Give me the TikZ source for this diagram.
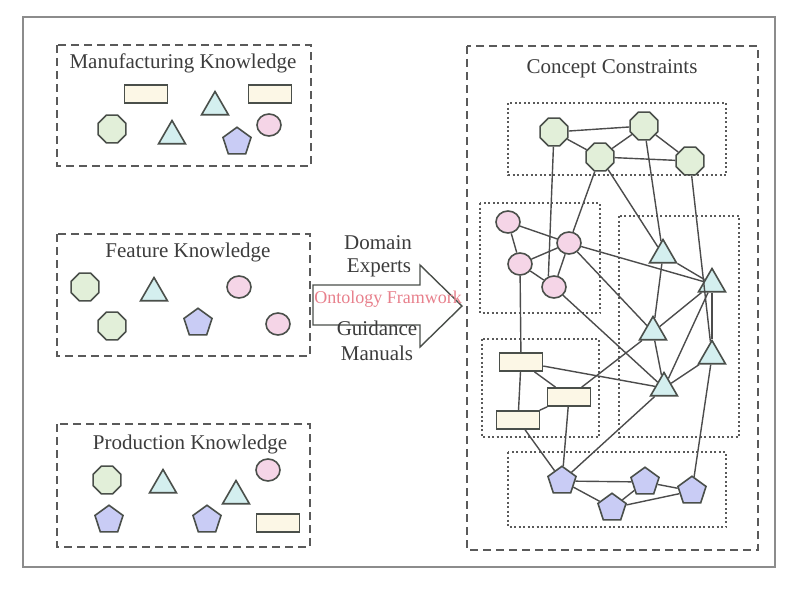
\documentclass[tikz,border=0pt]{standalone}
\usepackage{fontspec}
\setmainfont{Liberation Serif}
\usetikzlibrary{shapes.geometric}
\definecolor{octfill}{HTML}{E2EFD9}
\definecolor{trifill}{HTML}{D4EFEF}
\definecolor{circfill}{HTML}{F5D5E7}
\definecolor{pentfill}{HTML}{C9CCF5}
\definecolor{rctfill}{HTML}{FCF7E6}
\definecolor{shpline}{HTML}{4A4F4A}
\definecolor{boxline}{HTML}{5A5A5A}
\definecolor{lnkline}{HTML}{4C4C4C}
\definecolor{txt}{HTML}{3C3C3C}
\definecolor{pinktxt}{HTML}{E8808C}
\begin{document}
\begin{tikzpicture}[x=1pt,y=-1pt,
  shp/.style={draw=shpline,line width=1.6pt,inner sep=0pt},
  oct/.style={shp,regular polygon,regular polygon sides=8,minimum size=30pt,fill=octfill},
  tri/.style={shp,regular polygon,regular polygon sides=3,minimum size=31pt,fill=trifill},
  pent/.style={shp,regular polygon,regular polygon sides=5,minimum size=29.5pt,fill=pentfill},
  circ/.style={shp,ellipse,minimum width=24pt,minimum height=22pt,fill=circfill},
  rct/.style={shp,rectangle,minimum width=43pt,minimum height=18pt,fill=rctfill},
  grp/.style={draw=boxline,line width=1.5pt,dash pattern=on 8pt off 5pt},
  sub/.style={draw=boxline,line width=1.4pt,dash pattern=on 2pt off 2.5pt},
  lnk/.style={draw=lnkline,line width=1.4pt},
  ttl/.style={font=\fontsize{21}{24}\selectfont,text=txt,inner sep=0pt}]
\useasboundingbox (0,0) rectangle (800,594);
\draw [draw=gray!90,line width=1.4pt] (23,17) rectangle (775,567);
% left groups
\draw [grp] (57,45) rectangle (311,166);
\node [ttl] (tman) at (183,63) {Manufacturing Knowledge};
\node [rct] (m1) at (146,94) {};
\node [rct] (m2) at (270,94) {};
\node [tri] (m3) at (215,107) {};
\node [oct] (m4) at (112,129) {};
\node [tri] (m5) at (172,136) {};
\node [pent] (m6) at (237,142) {};
\node [circ] (m7) at (269,125) {};
\draw [grp] (57,234) rectangle (310,356);
\node [ttl] (tfea) at (188,252) {Feature Knowledge};
\node [oct] (f1) at (85,287) {};
\node [tri] (f2) at (154,293) {};
\node [circ] (f3) at (239,287) {};
\node [oct] (f4) at (112,326) {};
\node [pent] (f5) at (198,323) {};
\node [circ] (f6) at (278,324) {};
\draw [grp] (57,424) rectangle (310,547);
\node [ttl] (tpro) at (190,444) {Production Knowledge};
\node [oct] (p1) at (107,480) {};
\node [tri] (p2) at (163,485) {};
\node [circ] (p3) at (268,470) {};
\node [tri] (p4) at (236,496) {};
\node [pent] (p5) at (109,520) {};
\node [pent] (p6) at (207,520) {};
\node [rct] (p7) at (278,523) {};
% arrow
\draw [draw=shpline,line width=1.4pt,fill=white] (313,285) -- (420,285) -- (420,265) -- (462,306)
  -- (420,347) -- (420,325) -- (313,325) -- cycle;
\node [ttl] (tdom) at (378,243) {Domain};
\node [ttl] (texp) at (379,268) {Experts};
\node [ttl,font=\fontsize{18}{20}\selectfont,text=pinktxt] (tont) at (388,299) {Ontology Framwork};
\node [ttl] (tgui) at (377,328) {Guidance};
\node [ttl] (tman2) at (377,353) {Manuals};
% right group
\draw [grp] (467,46) rectangle (758,550);
\node [ttl] (tcon) at (612,69) {Concept Constraints};
\draw [sub] (508,103) rectangle (726,175);
\draw [sub] (480,203) rectangle (600,313);
\draw [sub] (619,216) rectangle (739,437);
\draw [sub] (482,339) rectangle (599,437);
\draw [sub] (508,452) rectangle (726,527);
\node [oct] (oa) at (554,132) {};
\node [oct] (ob) at (644,126) {};
\node [oct] (oc) at (600,157) {};
\node [oct] (od) at (690,161) {};
\node [circ] (ca) at (508,222) {};
\node [circ] (cb) at (569,243) {};
\node [circ] (cc) at (520,264) {};
\node [circ] (cd) at (554,287) {};
\node [tri] (ta) at (663,255) {};
\node [tri] (tb) at (712,284) {};
\node [tri] (tc) at (653,332) {};
\node [tri] (td) at (712,356) {};
\node [tri] (te) at (664,388) {};
\node [rct] (ra) at (521,362) {};
\node [rct] (rb) at (569,397) {};
\node [rct] (rc) at (518,420) {};
\node [pent] (pa) at (562,481) {};
\node [pent] (pb) at (645,482) {};
\node [pent] (pc) at (692,491) {};
\node [pent] (pd) at (612,508) {};
% constraints
\draw [lnk] (oa) -- (cd.118);
\foreach \a/\b in {oa/ob,oa/oc,oc/ob,oc/od,ob/od,oc/cb,oc/ta,ob/ta,od/td,
  ca/cb,ca/cc,cc/cb,cc/cd,cd/cb,cc/ra,cb/tb,cb/tc,cd/te,
  ta/tb,ta/tc,tc/tb,tc/te,tc/rb,tb/te,tb/td,td/te,td/pc,te/pa,
  ra/te,ra/rb,ra/rc,rc/rb,rc/pa,rb/pa,
  pa/pb,pa/pd,pd/pb,pb/pc,pd/pc}
  \draw [lnk] (\a) -- (\b);
\end{tikzpicture}
\end{document}
